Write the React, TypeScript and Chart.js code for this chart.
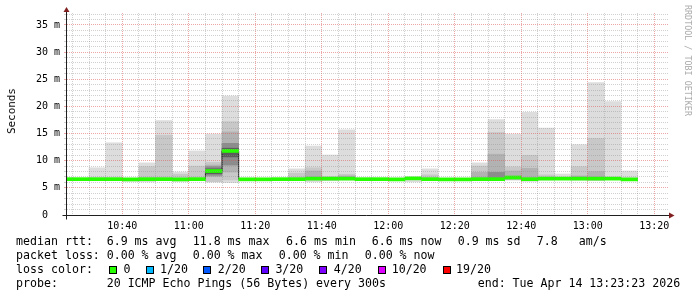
import React, { useEffect, useRef } from 'react';
import { Chart, registerables } from 'chart.js';

Chart.register(...registerables);

// ---------- data ----------
const windowStart = '10:23:22';
const windowEnd = '13:24:07';

const intervalStarts = [
  '10:20', '10:25', '10:30', '10:35', '10:40', '10:45', '10:50', '10:55',
  '11:00', '11:05', '11:10', '11:15', '11:20', '11:25', '11:30', '11:35',
  '11:40', '11:45', '11:50', '11:55', '12:00', '12:05', '12:10', '12:15',
  '12:20', '12:25', '12:30', '12:35', '12:40', '12:45', '12:50', '12:55',
  '13:00', '13:05', '13:10',
];

const medianMs = [
  6.6, 6.6, 6.6, 6.6, 6.56, 6.6, 6.6, 6.56,
  6.6, 8.1, 11.8, 6.57, 6.57, 6.6, 6.6, 6.7,
  6.7, 6.7, 6.6, 6.6, 6.56, 6.75, 6.6, 6.56,
  6.56, 6.6, 6.6, 6.9, 6.6, 6.7, 6.7, 6.7,
  6.7, 6.7, 6.56,
];

// smoke layers (low / high bounds, ms); null = no band
const lightLo = [
  null, null, 6.4, 6.4, 6.2, 6.1, 6.4, 6.2,
  6.4, 6.1, 5.95, 6.3, null, null, 6.4, 6.1,
  6.3, 6.4, null, null, 6.3, 6.1, 6.4, null,
  null, 6.3, 6.3, 6.4, 6.2, 6.4, 6.5, 6.4,
  6.3, 6.5, 6.5,
];
const lightHi = [
  null, null, 8.7, 13.3, 6.8, 9.6, 17.4, 7.9,
  11.8, 14.9, 21.9, 6.8, null, null, 8.5, 12.7,
  11.05, 15.7, null, null, 6.8, 6.95, 8.5, null,
  null, 9.6, 17.55, 14.9, 18.9, 16.0, 7.55, 12.95,
  24.4, 20.9, 8.1,
];
const midLo = [
  null, null, null, null, null, 6.4, 6.5, 6.3,
  6.5, 6.1, 6.45, null, null, null, 6.5, 6.4,
  6.4, 6.5, null, null, null, null, 6.5, null,
  null, 6.4, 6.4, 6.5, 6.4, 6.5, null, 6.5,
  6.4, null, null,
];
const midHi = [
  null, null, null, null, null, 8.9, 14.7, 7.5,
  9.0, 9.7, 17.2, null, null, null, 7.7, 8.7,
  7.05, 7.5, null, null, null, null, 7.4, null,
  null, 9.0, 15.2, 8.85, 11.0, 7.4, null, 8.9,
  14.1, null, null,
];
const darkLo = [
  null, null, null, null, null, null, null, null,
  null, 7.05, 7.9, null, null, null, null, 6.5,
  null, 6.6, null, null, null, null, null, null,
  null, 6.5, 6.5, 6.6, 6.5, null, null, 6.6,
  6.5, null, null,
];
const darkHi = [
  null, null, null, null, null, null, null, null,
  null, 9.2, 15.3, null, null, null, null, 8.1,
  null, 7.2, null, null, null, null, null, null,
  null, 7.85, 11.2, 8.1, 8.6, null, null, 7.2,
  8.0, null, null,
];
const darkerLo = [
  null, null, null, null, null, null, null, null,
  null, 7.3, 9.2, null, null, null, null, null,
  null, null, null, null, null, null, null, null,
  null, null, 6.6, null, null, null, null, null,
  null, null, null,
];
const darkerHi = [
  null, null, null, null, null, null, null, null,
  null, 8.9, 13.2, null, null, null, null, null,
  null, null, null, null, null, null, null, null,
  null, null, 7.85, null, null, null, null, null,
  null, null, null,
];
const darkestLo = [
  null, null, null, null, null, null, null, null,
  null, 7.6, 10.7, null, null, null, null, null,
  null, null, null, null, null, null, null, null,
  null, null, null, null, null, null, null, null,
  null, null, null,
];
const darkestHi = [
  null, null, null, null, null, null, null, null,
  null, 8.5, 12.3, null, null, null, null, null,
  null, null, null, null, null, null, null, null,
  null, null, null, null, null, null, null, null,
  null, null, null,
];

const xLabelTimes = ['10:40', '11:00', '11:20', '11:40', '12:00', '12:20', '12:40', '13:00', '13:20'];
const xMinorFirst = '10:25';
const xMinorLast = '13:20';
const yMax = 37.2;
const yMajorValues = [0, 5, 10, 15, 20, 25, 30, 35];
const yMajorLabels = ['0  ', '5 m', '10 m', '15 m', '20 m', '25 m', '30 m', '35 m'];

const rttLabel = 'median rtt:';
const rttStats = ['6.9 ms avg', '11.8 ms max', '6.6 ms min', '6.6 ms now', '0.9 ms sd', '7.8', 'am/s'];
const lossLabel = 'packet loss:';
const lossStats = ['0.00 % avg', '0.00 % max', '0.00 % min', '0.00 % now'];
const lossColorLabel = 'loss color:';
const lossKeys = ['0', '1/20', '2/20', '3/20', '4/20', '10/20', '19/20'];
const lossColors = ['#26ff00', '#00b8ff', '#0059ff', '#5e00ff', '#7e00ff', '#dd00ff', '#ff0000'];
const probeLabel = 'probe:';
const probeText = '20 ICMP Echo Pings (56 Bytes) every 300s';
const endText = 'end: Tue Apr 14 13:23:23 2026';

// ---------- layout (positions only) ----------
const rttX = [107.3, 193.3, 286.7, 372.3, 458.3, 537.3, 579.3];
const lossX = [107.3, 193.3, 279.3, 365.3];
const boxX = [109, 146, 203, 261, 319, 378, 443];
const keyX = [124, 160.7, 218.3, 276, 334.3, 392.3, 456.7];
const rowTop = [234.3, 248, 261.7, 275.7];

const toMin = (t: string) => {
  const [h, m, s] = t.split(':').map(Number);
  return h * 60 + m + (s || 0) / 60;
};

const MONO = "'DejaVu Sans Mono', monospace";
const GRID = 'rgba(143,143,143,0.42)';
const MGRID = 'rgba(222,79,79,0.5)';

function band(lo: (number | null)[], hi: (number | null)[]) {
  const out: any[] = [];
  intervalStarts.forEach((s, i) => {
    const l = lo[i];
    const h = hi[i];
    if (l != null && h != null) out.push({ x: toMin(s) + 2.5, y: [l, h] });
  });
  return out;
}

const axesPlugin = {
  id: 'rrdAxes',
  afterDraw(chart: any) {
    const { ctx, chartArea: a } = chart;
    const yb = Math.round(a.bottom) + 0.5;
    const xl = Math.round(a.left) - 0.5;
    ctx.save();
    ctx.strokeStyle = '#1f1f1f';
    ctx.lineWidth = 1;
    ctx.beginPath();
    ctx.moveTo(xl - 4, yb);
    ctx.lineTo(a.right + 2, yb);
    ctx.moveTo(xl, yb + 4);
    ctx.lineTo(xl, a.top - 3);
    ctx.stroke();
    ctx.fillStyle = '#801f1f';
    ctx.beginPath();
    ctx.moveTo(a.right + 1, yb - 3);
    ctx.lineTo(a.right + 6.5, yb);
    ctx.lineTo(a.right + 1, yb + 3);
    ctx.closePath();
    ctx.fill();
    ctx.beginPath();
    ctx.moveTo(xl - 3, a.top - 1);
    ctx.lineTo(xl, a.top - 6);
    ctx.lineTo(xl + 3, a.top - 1);
    ctx.closePath();
    ctx.fill();
    ctx.restore();
  },
};

export default function App() {
  const ref = useRef<HTMLCanvasElement>(null);

  useEffect(() => {
    if (!ref.current) return;
    const xMajor = xLabelTimes.map(toMin);
    const xTicks: number[] = [];
    for (let t = toMin(xMinorFirst); t <= toMin(xMinorLast) + 0.01; t += 5) xTicks.push(t);
    const yTicks: number[] = [];
    for (let v = 0; v <= Math.floor(yMax); v++) yTicks.push(v);

    const isXMajor = (v: number) => xMajor.some((m) => Math.abs(m - v) < 0.01);
    const isYMajor = (v: number) => yMajorValues.includes(v);

    const smoke = [
      { lo: lightLo, hi: lightHi, color: '#dddddd' },
      { lo: midLo, hi: midHi, color: '#c8c8c8' },
      { lo: darkLo, hi: darkHi, color: '#b2b2b2' },
      { lo: darkerLo, hi: darkerHi, color: '#8c8c8c' },
      { lo: darkestLo, hi: darkestHi, color: '#5c5c5c' },
    ];

    const bandHalf = 0.28;
    const medianLine = intervalStarts.map((s, i) => ({ x: toMin(s), y: medianMs[i] }));
    medianLine.push({ x: toMin(intervalStarts[intervalStarts.length - 1]) + 5, y: medianMs[medianMs.length - 1] });

    const datasets: any[] = smoke.map((l, k) => ({
      type: 'bar',
      data: band(l.lo, l.hi),
      backgroundColor: l.color,
      borderWidth: 0,
      grouped: false,
      barPercentage: 1,
      categoryPercentage: 1,
      order: 20 - k,
    }));
    datasets.push({
      type: 'line',
      data: medianLine,
      borderColor: '#202020',
      borderWidth: 1,
      stepped: 'before',
      pointRadius: 0,
      fill: false,
      order: 5,
    });
    datasets.push({
      type: 'bar',
      data: medianMs.map((m, i) => ({ x: toMin(intervalStarts[i]) + 2.5, y: [m - bandHalf, m + bandHalf] })),
      backgroundColor: lossColors[0],
      borderWidth: 0,
      grouped: false,
      barPercentage: 1,
      categoryPercentage: 1,
      order: 1,
    });

    const chart = new Chart(ref.current, {
      type: 'bar',
      data: { datasets },
      plugins: [axesPlugin],
      options: {
        responsive: false,
        animation: false,
        devicePixelRatio: 1,
        events: [],
        layout: { padding: { left: 0, right: 29, top: 13, bottom: 62 } },
        plugins: { legend: { display: false }, tooltip: { enabled: false }, title: { display: false } },
        scales: {
          x: {
            type: 'linear',
            min: toMin(windowStart),
            max: toMin(windowEnd),
            offset: false,
            afterBuildTicks: (s: any) => {
              s.ticks = xTicks.map((v) => ({ value: v }));
            },
            afterFit: (s: any) => {
              s.height = 20;
              s.paddingLeft = 0;
              s.paddingRight = 0;
            },
            ticks: {
              autoSkip: false,
              maxRotation: 0,
              minRotation: 0,
              padding: 2,
              color: '#000',
              font: { family: MONO, size: 10 },
              callback: (v: any) => {
                const i = xMajor.findIndex((m) => Math.abs(m - v) < 0.01);
                return i >= 0 ? xLabelTimes[i] : '';
              },
            },
            grid: {
              offset: false,
              z: 1,
              lineWidth: 1,
              tickLength: 3,
              tickColor: 'rgba(0,0,0,0)',
              color: (c: any) => (c.tick && isXMajor(c.tick.value) ? MGRID : GRID),
            },
            border: { display: false, dash: [1, 1] },
          },
          y: {
            type: 'linear',
            min: 0,
            max: yMax,
            afterBuildTicks: (s: any) => {
              s.ticks = yTicks.map((v) => ({ value: v }));
            },
            afterFit: (s: any) => {
              s.width = 67;
              s.paddingTop = 0;
              s.paddingBottom = 0;
            },
            ticks: {
              autoSkip: false,
              padding: 4,
              color: '#000',
              font: { family: MONO, size: 10 },
              callback: (v: any) => {
                const i = yMajorValues.indexOf(Number(v));
                return i >= 0 ? yMajorLabels[i] : '';
              },
            },
            grid: {
              z: 1,
              lineWidth: 1,
              tickLength: 3,
              color: (c: any) => (c.tick && isYMajor(c.tick.value) ? MGRID : GRID),
              tickColor: (c: any) => (c.tick && isYMajor(c.tick.value) ? MGRID : GRID),
            },
            border: { display: false, dash: [1, 1] },
          },
        },
      } as any,
    });
    return () => chart.destroy();
  }, []);

  const txt = (content: string, left: number, top: number, key?: string) => (
    <div
      key={key}
      style={{
        position: 'absolute',
        left: left - 0.6,
        top,
        fontFamily: MONO,
        fontSize: '11.6px',
        lineHeight: '14px',
        whiteSpace: 'pre',
        color: '#000',
      }}
    >
      {content}
    </div>
  );

  return (
    <div style={{ position: 'absolute', left: 0, top: 0, width: 697, height: 297, background: '#fff', overflow: 'hidden' }}>
      <canvas ref={ref} width={697} height={297} style={{ position: 'absolute', left: 0, top: 0, width: 697, height: 297 }} />
      <div
        style={{
          position: 'absolute',
          left: 11.5,
          top: 111,
          transform: 'translate(-50%, -50%) rotate(-90deg)',
          fontFamily: MONO,
          fontSize: '10.9px',
          lineHeight: '12px',
          whiteSpace: 'pre',
          color: '#000',
        }}
      >
        Seconds
      </div>
      <div
        style={{
          position: 'absolute',
          left: 692,
          top: 5,
          transformOrigin: '0 0',
          transform: 'rotate(90deg)',
          fontFamily: MONO,
          fontSize: '8.4px',
          lineHeight: '9px',
          whiteSpace: 'pre',
          color: '#aaaaaa',
        }}
      >
        RRDTOOL / TOBI OETIKER
      </div>
      {txt(rttLabel, 16.7, rowTop[0])}
      {rttStats.map((s, i) => txt(s, rttX[i], rowTop[0], 'r' + i))}
      {txt(lossLabel, 16.7, rowTop[1])}
      {lossStats.map((s, i) => txt(s, lossX[i], rowTop[1], 'l' + i))}
      {txt(lossColorLabel, 16.7, rowTop[2])}
      {lossKeys.map((k, i) => (
        <React.Fragment key={'k' + i}>
          <div
            style={{
              position: 'absolute',
              left: boxX[i],
              top: 266,
              width: 8,
              height: 8,
              boxSizing: 'border-box',
              border: '1px solid #000',
              background: lossColors[i],
            }}
          />
          {txt(k, keyX[i], rowTop[2])}
        </React.Fragment>
      ))}
      {txt(probeLabel, 16.7, rowTop[3])}
      {txt(probeText, 107.3, rowTop[3])}
      {txt(endText, 478.3, rowTop[3])}
    </div>
  );
}
